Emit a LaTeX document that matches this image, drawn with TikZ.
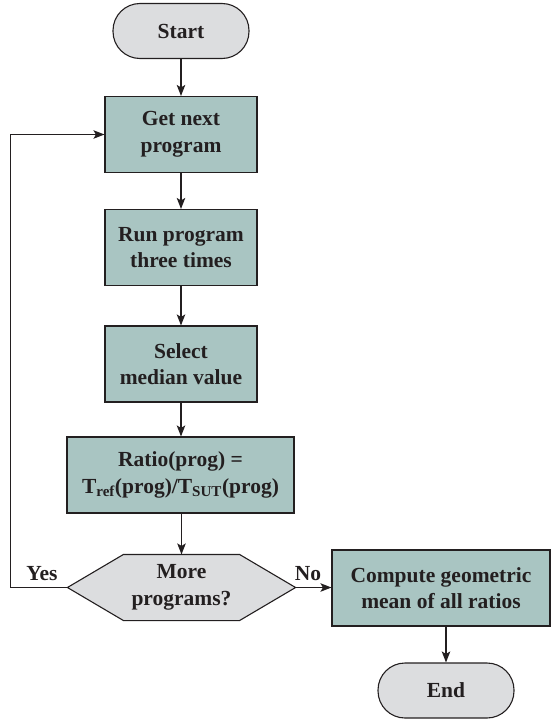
\documentclass[tikz,border=0pt]{standalone}
\usepackage{fontspec}
\setmainfont{Liberation Serif}
\usetikzlibrary{arrows.meta,backgrounds}
\definecolor{tealfill}{RGB}{169,197,194}
\definecolor{grayfill}{RGB}{220,221,223}
\definecolor{ink}{RGB}{35,31,32}
\begin{document}
\begin{tikzpicture}[x=1pt,y=-1pt,
  font=\fontsize{21.5}{26.5}\selectfont\bfseries,
  base/.style={draw=ink, line width=1.1pt, align=center, inner sep=0pt, text=ink},
  procbox/.style={base, fill=tealfill, rectangle, minimum width=152pt, minimum height=76pt},
  termbox/.style={base, fill=grayfill, rectangle, rounded corners=27pt, minimum width=136pt, minimum height=55pt},
  conn/.style={line width=1.3pt, draw=ink, -{Stealth[length=11pt,width=8.5pt,inset=2.5pt]}},
  loopline/.style={line width=1.1pt, draw=ink, -{Stealth[length=11pt,width=8.5pt,inset=2.5pt]}},
  lbl/.style={text=ink, inner sep=0pt}
]
\useasboundingbox (0,0) rectangle (551,720);

\node[termbox] (start) at (181,31) {Start};
\node[procbox] (getnext) at (181,134.5) {Get next\\program};
\node[procbox] (run) at (181,247.5) {Run program\\three times};
\node[procbox] (select) at (181,364) {Select\\median value};
\node[procbox, minimum width=227pt] (ratio) at (180.5,475) {Ratio(prog) =\\T\textsubscript{ref}(prog)/T\textsubscript{SUT}(prog)};
\node[base, draw=none, rectangle, minimum width=227pt, minimum height=65pt] (dec) at (181.5,587.5) {More\\programs?};
\begin{scope}[on background layer]
  \draw[draw=ink, line width=1.1pt, fill=grayfill]
    ([xshift=56pt]dec.north west) -- ([xshift=-56pt]dec.north east) -- (dec.east)
    -- ([xshift=-56pt]dec.south east) -- ([xshift=56pt]dec.south west) -- (dec.west) -- cycle;
\end{scope}
\node[procbox, minimum width=218pt] (compute) at (441,588) {Compute geometric\\mean of all ratios};
\node[termbox] (end) at (446,690.5) {End};

\coordinate (loopc) at (10.5,0);
\node[lbl] (yes) at (42,574) {Yes};
\node[lbl] (no) at (308,574) {No};

\draw[conn] (start) -- (getnext);
\draw[conn] (getnext) -- (run);
\draw[conn] (run) -- (select);
\draw[conn] (select.south) -- (select.south |- ratio.north);
\draw[conn] (ratio.south -| dec.north) -- (dec.north);
\draw[loopline] (dec.west) -- (dec.west -| loopc) |- (getnext.west);
\draw[conn] (dec.east) -- (dec.east -| compute.west);
\draw[conn] (end.north |- compute.south) -- (end.north);
\end{tikzpicture}
\end{document}
